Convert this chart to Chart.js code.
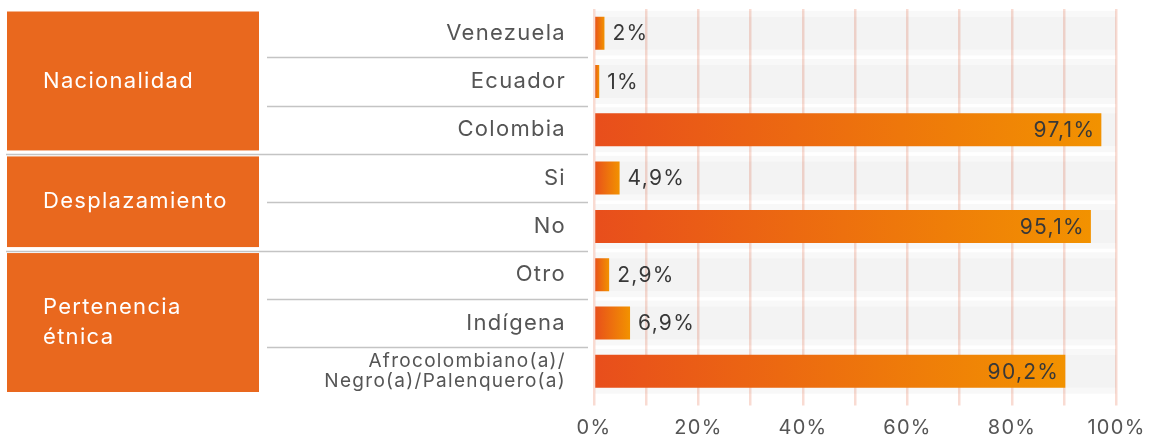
<!DOCTYPE html>
<html>
<head>
<meta charset="utf-8">
<script src="https://cdn.jsdelivr.net/npm/chart.js@4"></script>
<style>
  html, body { margin: 0; padding: 0; background: #fff; }
  #wrap { width: 1153px; height: 442px; }
</style>
</head>
<body>
<div id="wrap"><canvas id="chart" width="1153" height="442"></canvas></div>
<script>
// data
const categories = ['Venezuela', 'Ecuador', 'Colombia', 'Si', 'No', 'Otro', 'Indígena',
  ['Afrocolombiano(a)/', 'Negro(a)/Palenquero(a)']];
const values = [2, 1, 97.1, 4.9, 95.1, 2.9, 6.9, 90.2];
const groupNames = [['Nacionalidad'], ['Desplazamiento'], ['Pertenencia', 'étnica']];
const groupSizes = [3, 2, 3];
const tickLabels = ['0%', '20%', '40%', '60%', '80%', '100%'];

const FONT = 'Inter, "Open Sans", sans-serif';

function fmt(v) {
  return String(v).replace('.', ',') + '%';
}

// the reference font is wider, so track the letters out a bit
const spacingPlugin = {
  id: 'spacing',
  beforeDraw(chart) {
    chart.ctx.letterSpacing = '1.3px';
  }
};

// orange boxes on the left + separator lines
const groupPlugin = {
  id: 'groups',
  afterDraw(chart) {
    const { ctx, scales: { y } } = chart;
    const half = (y.getPixelForValue(1) - y.getPixelForValue(0)) / 2;
    const starts = [];
    let s = 0;
    groupSizes.forEach(n => { starts.push(s); s += n; });

    ctx.save();
    ctx.strokeStyle = '#c4c4c4';
    ctx.lineWidth = 1.5;
    for (let i = 1; i < categories.length; i++) {
      const yy = Math.round(y.getPixelForValue(i) - half) + 0.5;
      const long = starts.includes(i);
      ctx.beginPath();
      ctx.moveTo(long ? 6 : 267, yy);
      ctx.lineTo(588, yy);
      ctx.stroke();
    }

    groupSizes.forEach((n, g) => {
      const top = y.getPixelForValue(starts[g]) - half + 2.5;
      const bottom = y.getPixelForValue(starts[g] + n - 1) + half - 3.5;
      ctx.fillStyle = '#e9681e';
      ctx.fillRect(7, top, 252, bottom - top);
      ctx.fillStyle = '#fff';
      ctx.font = '22px ' + FONT;
      ctx.textBaseline = 'middle';
      ctx.textAlign = 'left';
      const lines = groupNames[g];
      const mid = (top + bottom) / 2;
      lines.forEach((t, k) => {
        ctx.fillText(t, 43, mid + (k - (lines.length - 1) / 2) * 30);
      });
    });
    ctx.restore();
  }
};

// value labels: outside for short bars, inside for long ones
const valuePlugin = {
  id: 'values',
  afterDatasetsDraw(chart) {
    const { ctx } = chart;
    const meta = chart.getDatasetMeta(0);
    ctx.save();
    ctx.font = '21px ' + FONT;
    ctx.fillStyle = '#383838';
    ctx.textBaseline = 'middle';
    meta.data.forEach((bar, i) => {
      const v = values[i];
      if (v > 50) {
        ctx.textAlign = 'right';
        ctx.fillText(fmt(v), bar.x - 6, bar.y + 1);
      } else {
        ctx.textAlign = 'left';
        ctx.fillText(fmt(v), bar.x + 8, bar.y + 1);
      }
    });
    ctx.restore();
  }
};

function barGradient(c) {
  const chart = c.chart;
  if (!chart.chartArea) return '#e9681e';
  const x = chart.scales.x;
  const x0 = x.getPixelForValue(0);
  const x1 = x.getPixelForValue(c.raw);
  const g = chart.ctx.createLinearGradient(x0, 0, Math.max(x1, x0 + 1), 0);
  g.addColorStop(0, '#e84e1c');
  g.addColorStop(1, '#f29200');
  return g;
}

new Chart(document.getElementById('chart'), {
  type: 'bar',
  data: {
    labels: categories,
    datasets: [
      {
        data: values,
        backgroundColor: barGradient,
        barPercentage: 0.683,
        categoryPercentage: 1,
        grouped: false,
        order: 1
      },
      {
        data: categories.map(() => 100),
        backgroundColor: 'rgba(0,0,0,0.025)',
        barPercentage: 0.683,
        categoryPercentage: 1,
        grouped: false,
        order: 2
      },
      {
        data: categories.map(() => 100),
        backgroundColor: 'rgba(0,0,0,0.028)',
        barPercentage: 0.93,
        categoryPercentage: 1,
        grouped: false,
        order: 3
      }
    ]
  },
  options: {
    indexAxis: 'y',
    responsive: false,
    animation: false,
    layout: { padding: { top: 9, right: 36, bottom: 0, left: 0 } },
    plugins: {
      legend: { display: false },
      tooltip: { enabled: false }
    },
    scales: {
      x: {
        min: 0,
        max: 100,
        border: { display: false },
        grid: {
          color: 'rgba(236,150,122,0.34)',
          lineWidth: 2.5,
          tickLength: 10
        },
        ticks: {
          stepSize: 10,
          padding: 10,
          autoSkip: false,
          minRotation: 0,
          maxRotation: 0,
          color: '#555',
          font: { size: 20, family: FONT },
          callback: v => (v % 20 === 0 ? tickLabels[v / 20] : '')
        },
        afterFit: scale => { scale.height = 46.5; }
      },
      y: {
        border: { display: false },
        grid: { display: false },
        ticks: {
          padding: 20,
          autoSkip: false,
          color: '#555',
          font: c => ({ size: c.index === 7 ? 19 : 22, family: FONT, lineHeight: 1.05 })
        },
        afterFit: scale => {
          scale.width = 594;
          scale.paddingTop = 0;
          scale.paddingBottom = 0;
        }
      }
    }
  },
  plugins: [spacingPlugin, groupPlugin, valuePlugin]
});
</script>
</body>
</html>
